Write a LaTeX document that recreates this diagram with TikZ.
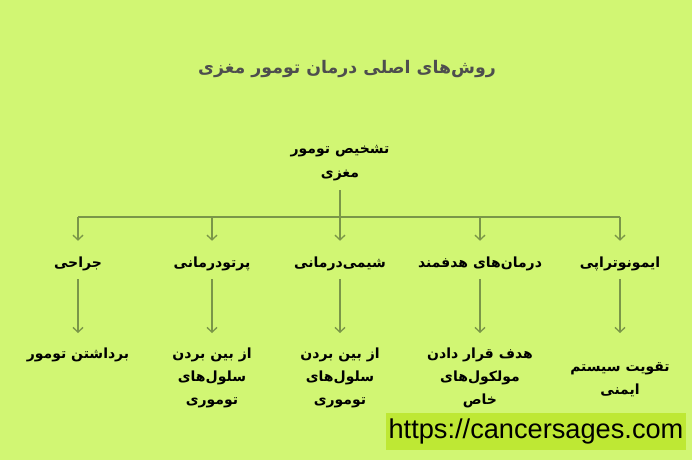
\documentclass[tikz,border=0pt]{standalone}
\usepackage{fontspec}
\setmainfont{Liberation Sans}
\newfontfamily\farsifont[Script=Arabic]{DejaVu Sans}
\TeXXeTstate=1
\usetikzlibrary{arrows.meta}

\definecolor{bggreen}{RGB}{209,246,115}
\definecolor{markgreen}{RGB}{190,232,52}
\definecolor{linegreen}{RGB}{122,150,72}
\definecolor{titlegray}{RGB}{78,78,78}

\newcommand{\fa}[1]{{\farsifont\beginR #1\endR}}

\begin{document}
\begin{tikzpicture}[x=0.75pt,y=0.75pt,yscale=-1,xscale=1,
  txt/.style={inner sep=0.75pt, align=center, font=\fontsize{10.5}{17.25}\selectfont\bfseries},
  kind/.style={txt, anchor=base, inner ysep=4pt, text height=15.5pt, text depth=5pt},
  leaf/.style={txt, anchor=north, inner ysep=11pt},
  conn/.style={draw=linegreen, line width=1pt},
  arr/.style={conn, -{Straight Barb[length=3.5pt,width=7.5pt]}}]
  \useasboundingbox (0,0) rectangle (692,460);
  \fill[bggreen] (0,0) rectangle (692,460);

  % Text Node
  \node[txt, text=titlegray, font=\fontsize{13}{16}\selectfont\bfseries] (title) at (347,69) {\fa{روش‌های اصلی درمان تومور مغزی}};
  % Text Node
  \node[txt, font=\fontsize{10.5}{18}\selectfont\bfseries] (root) at (340,163) {\fa{تشخیص تومور}\\\fa{مغزی}};

  % Text Node
  \node[kind] (c1) at (78,267) {\fa{جراحی}};
  \node[kind] (c2) at (212,267) {\fa{پرتودرمانی}};
  \node[kind] (c3) at (340,267) {\fa{شیمی‌درمانی}};
  \node[kind] (c4) at (480,267) {\fa{درمان‌های هدفمند}};
  \node[kind] (c5) at (620,267) {\fa{ایمونوتراپی}};

  % Text Node
  \node[leaf] (l1) at (78,333) {\fa{برداشتن تومور}};
  \node[leaf] (l2) at (212,333) {\fa{از بین بردن}\\\fa{سلول‌های}\\\fa{توموری}};
  \node[leaf] (l3) at (340,333) {\fa{از بین بردن}\\\fa{سلول‌های}\\\fa{توموری}};
  \node[leaf] (l4) at (480,333) {\fa{هدف قرار دادن}\\\fa{مولکول‌های}\\\fa{خاص}};
  \node[leaf, inner ysep=22pt] (l5) at (620,333) {\fa{تقویت سیستم}\\\fa{ایمنی}};

  %Straight Lines
  \coordinate (bus) at (340,217);
  \draw[conn, shorten <=6pt] (root) -- (root |- bus);
  \draw[conn] (bus -| c1) -- (bus -| c5);
  \foreach \i in {1,...,5} {
    \draw[arr] (bus -| c\i) -- (c\i);
    \draw[arr] (c\i) -- (l\i);
  }

  % Text Node
  \node[fill=markgreen, inner sep=0pt, minimum width=225pt, minimum height=27.75pt,
    font=\fontsize{20.4}{24}\selectfont] (site) at (536,431.5) {https://cancersages.com};
\end{tikzpicture}
\end{document}
